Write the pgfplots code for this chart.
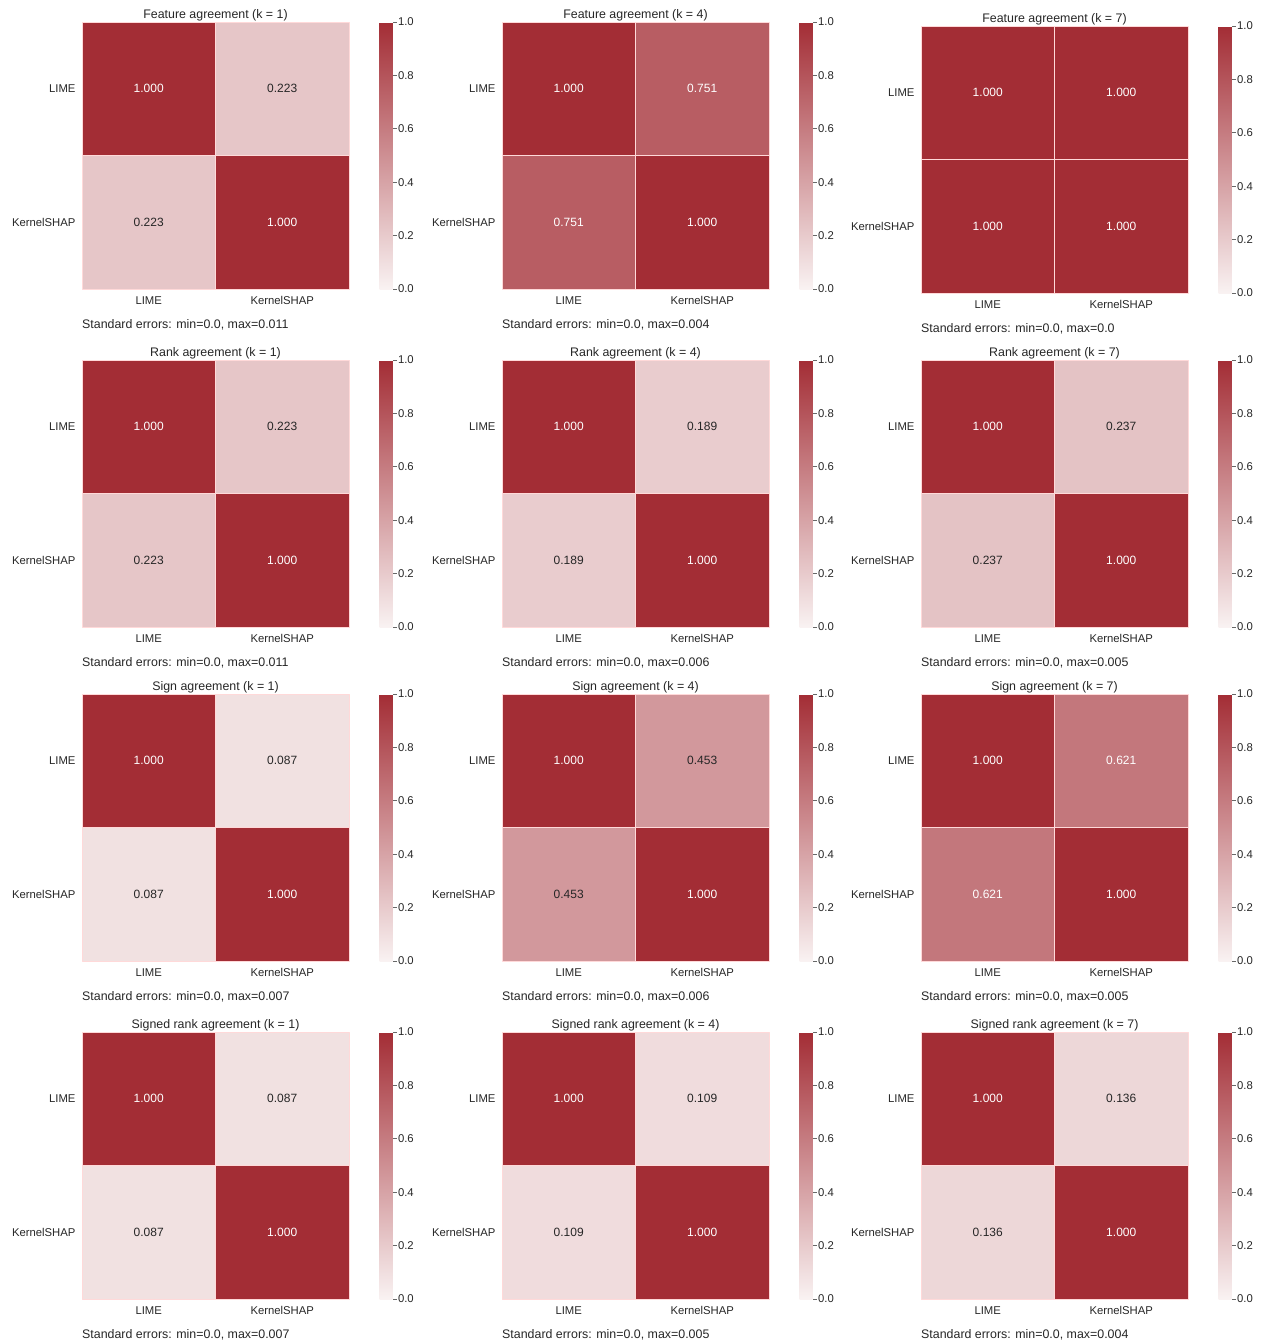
\documentclass[border=0pt]{standalone}
\usepackage{pgfplots}
\pgfplotsset{compat=1.18}
\usepackage{fontspec}
\setmainfont{Liberation Sans}
\definecolor{txt}{RGB}{38,38,38}
\tikzset{annot/.style={font=\fontsize{12}{14}\selectfont, anchor=center, inner sep=0pt},
  setext/.style={anchor=base west, font=\fontsize{12.4}{14}\selectfont, text=txt, inner sep=0pt}}
\pgfplotsset{
  /pgf/number format/assume math mode=true,
  colormap={redmap}{rgb255=(249,242,242) rgb255=(163,45,53)},
  cells/.style={patch, patch type=rectangle, shader=faceted, faceted color=white!85!red, line width=0.5pt, point meta=explicit},
  hm/.style={
    anchor=north west, scale only axis, width=267pt, height=267pt,
    xmin=0, xmax=2, ymin=0, ymax=2, y dir=reverse, clip=false,
    axis line style={draw=none},
    xtick={0.5,1.5}, xticklabels={LIME,KernelSHAP},
    ytick={0.5,1.5}, yticklabels={LIME,KernelSHAP},
    major tick length=0pt,
    tick label style={font=\fontsize{11.3}{13}\selectfont, text=txt},
    xticklabel style={anchor=base, yshift=-15.5pt},
    yticklabel style={xshift=-3pt},
    title style={font=\fontsize{12.4}{14}\selectfont, text=txt, at={(0.5,1)}, anchor=base, yshift=-2.8pt, inner sep=0pt},
    colormap name=redmap, point meta min=0, point meta max=1,
    colorbar right,
    colorbar style={at={(parent axis.north east)}, anchor=north west, xshift=22pt,
      width=13pt, height=267pt, scale only axis,
      ytick={0,0.2,0.4,0.6,0.8,1.0},
      yticklabel style={/pgf/number format/.cd, fixed, fixed zerofill, precision=1, /tikz/.cd,
        font=\fontsize{11.3}{13}\selectfont, text=txt, xshift=-2pt},
      axis line style={draw=none}, tick align=outside, major tick length=4pt,
      ytick pos=right, tick style={color=txt!70, line width=0.7pt}},
  }
}
\begin{document}
\begin{tikzpicture}
\useasboundingbox (0,0) rectangle (1265pt,-1342pt);
% ===== Row 1: Feature agreement =====
\begin{axis}[hm, at={(82pt,-22pt)}, title={Feature agreement (k = 1)}]
\addplot[cells] coordinates {
 (0,0) [1] (1,0) [1] (1,1) [1] (0,1) [1]
 (1,0) [0.223] (2,0) [0.223] (2,1) [0.223] (1,1) [0.223]
 (0,1) [0.223] (1,1) [0.223] (1,2) [0.223] (0,2) [0.223]
 (1,1) [1] (2,1) [1] (2,2) [1] (1,2) [1]};
\node[annot, text=white] at (axis cs:0.5,0.5) {1.000};
\node[annot, text=txt] at (axis cs:1.5,0.5) {0.223};
\node[annot, text=txt] at (axis cs:0.5,1.5) {0.223};
\node[annot, text=white] at (axis cs:1.5,1.5) {1.000};
\end{axis}
\node[setext] at (82pt,-328pt) {Standard errors: min=0.0, max=0.011};
\begin{axis}[hm, at={(502pt,-22pt)}, title={Feature agreement (k = 4)}]
\addplot[cells] coordinates {
 (0,0) [1] (1,0) [1] (1,1) [1] (0,1) [1]
 (1,0) [0.751] (2,0) [0.751] (2,1) [0.751] (1,1) [0.751]
 (0,1) [0.751] (1,1) [0.751] (1,2) [0.751] (0,2) [0.751]
 (1,1) [1] (2,1) [1] (2,2) [1] (1,2) [1]};
\node[annot, text=white] at (axis cs:0.5,0.5) {1.000};
\node[annot, text=white] at (axis cs:1.5,0.5) {0.751};
\node[annot, text=white] at (axis cs:0.5,1.5) {0.751};
\node[annot, text=white] at (axis cs:1.5,1.5) {1.000};
\end{axis}
\node[setext] at (502pt,-328pt) {Standard errors: min=0.0, max=0.004};
\begin{axis}[hm, at={(921pt,-26pt)}, title={Feature agreement (k = 7)}]
\addplot[cells] coordinates {
 (0,0) [1] (1,0) [1] (1,1) [1] (0,1) [1]
 (1,0) [1.000] (2,0) [1.000] (2,1) [1.000] (1,1) [1.000]
 (0,1) [1.000] (1,1) [1.000] (1,2) [1.000] (0,2) [1.000]
 (1,1) [1] (2,1) [1] (2,2) [1] (1,2) [1]};
\node[annot, text=white] at (axis cs:0.5,0.5) {1.000};
\node[annot, text=white] at (axis cs:1.5,0.5) {1.000};
\node[annot, text=white] at (axis cs:0.5,1.5) {1.000};
\node[annot, text=white] at (axis cs:1.5,1.5) {1.000};
\end{axis}
\node[setext] at (921pt,-332pt) {Standard errors: min=0.0, max=0.0};
% ===== Row 2: Rank agreement =====
\begin{axis}[hm, at={(82pt,-360pt)}, title={Rank agreement (k = 1)}]
\addplot[cells] coordinates {
 (0,0) [1] (1,0) [1] (1,1) [1] (0,1) [1]
 (1,0) [0.223] (2,0) [0.223] (2,1) [0.223] (1,1) [0.223]
 (0,1) [0.223] (1,1) [0.223] (1,2) [0.223] (0,2) [0.223]
 (1,1) [1] (2,1) [1] (2,2) [1] (1,2) [1]};
\node[annot, text=white] at (axis cs:0.5,0.5) {1.000};
\node[annot, text=txt] at (axis cs:1.5,0.5) {0.223};
\node[annot, text=txt] at (axis cs:0.5,1.5) {0.223};
\node[annot, text=white] at (axis cs:1.5,1.5) {1.000};
\end{axis}
\node[setext] at (82pt,-666pt) {Standard errors: min=0.0, max=0.011};
\begin{axis}[hm, at={(502pt,-360pt)}, title={Rank agreement (k = 4)}]
\addplot[cells] coordinates {
 (0,0) [1] (1,0) [1] (1,1) [1] (0,1) [1]
 (1,0) [0.189] (2,0) [0.189] (2,1) [0.189] (1,1) [0.189]
 (0,1) [0.189] (1,1) [0.189] (1,2) [0.189] (0,2) [0.189]
 (1,1) [1] (2,1) [1] (2,2) [1] (1,2) [1]};
\node[annot, text=white] at (axis cs:0.5,0.5) {1.000};
\node[annot, text=txt] at (axis cs:1.5,0.5) {0.189};
\node[annot, text=txt] at (axis cs:0.5,1.5) {0.189};
\node[annot, text=white] at (axis cs:1.5,1.5) {1.000};
\end{axis}
\node[setext] at (502pt,-666pt) {Standard errors: min=0.0, max=0.006};
\begin{axis}[hm, at={(921pt,-360pt)}, title={Rank agreement (k = 7)}]
\addplot[cells] coordinates {
 (0,0) [1] (1,0) [1] (1,1) [1] (0,1) [1]
 (1,0) [0.237] (2,0) [0.237] (2,1) [0.237] (1,1) [0.237]
 (0,1) [0.237] (1,1) [0.237] (1,2) [0.237] (0,2) [0.237]
 (1,1) [1] (2,1) [1] (2,2) [1] (1,2) [1]};
\node[annot, text=white] at (axis cs:0.5,0.5) {1.000};
\node[annot, text=txt] at (axis cs:1.5,0.5) {0.237};
\node[annot, text=txt] at (axis cs:0.5,1.5) {0.237};
\node[annot, text=white] at (axis cs:1.5,1.5) {1.000};
\end{axis}
\node[setext] at (921pt,-666pt) {Standard errors: min=0.0, max=0.005};
% ===== Row 3: Sign agreement =====
\begin{axis}[hm, at={(82pt,-694pt)}, title={Sign agreement (k = 1)}]
\addplot[cells] coordinates {
 (0,0) [1] (1,0) [1] (1,1) [1] (0,1) [1]
 (1,0) [0.087] (2,0) [0.087] (2,1) [0.087] (1,1) [0.087]
 (0,1) [0.087] (1,1) [0.087] (1,2) [0.087] (0,2) [0.087]
 (1,1) [1] (2,1) [1] (2,2) [1] (1,2) [1]};
\node[annot, text=white] at (axis cs:0.5,0.5) {1.000};
\node[annot, text=txt] at (axis cs:1.5,0.5) {0.087};
\node[annot, text=txt] at (axis cs:0.5,1.5) {0.087};
\node[annot, text=white] at (axis cs:1.5,1.5) {1.000};
\end{axis}
\node[setext] at (82pt,-1000pt) {Standard errors: min=0.0, max=0.007};
\begin{axis}[hm, at={(502pt,-694pt)}, title={Sign agreement (k = 4)}]
\addplot[cells] coordinates {
 (0,0) [1] (1,0) [1] (1,1) [1] (0,1) [1]
 (1,0) [0.453] (2,0) [0.453] (2,1) [0.453] (1,1) [0.453]
 (0,1) [0.453] (1,1) [0.453] (1,2) [0.453] (0,2) [0.453]
 (1,1) [1] (2,1) [1] (2,2) [1] (1,2) [1]};
\node[annot, text=white] at (axis cs:0.5,0.5) {1.000};
\node[annot, text=txt] at (axis cs:1.5,0.5) {0.453};
\node[annot, text=txt] at (axis cs:0.5,1.5) {0.453};
\node[annot, text=white] at (axis cs:1.5,1.5) {1.000};
\end{axis}
\node[setext] at (502pt,-1000pt) {Standard errors: min=0.0, max=0.006};
\begin{axis}[hm, at={(921pt,-694pt)}, title={Sign agreement (k = 7)}]
\addplot[cells] coordinates {
 (0,0) [1] (1,0) [1] (1,1) [1] (0,1) [1]
 (1,0) [0.621] (2,0) [0.621] (2,1) [0.621] (1,1) [0.621]
 (0,1) [0.621] (1,1) [0.621] (1,2) [0.621] (0,2) [0.621]
 (1,1) [1] (2,1) [1] (2,2) [1] (1,2) [1]};
\node[annot, text=white] at (axis cs:0.5,0.5) {1.000};
\node[annot, text=white] at (axis cs:1.5,0.5) {0.621};
\node[annot, text=white] at (axis cs:0.5,1.5) {0.621};
\node[annot, text=white] at (axis cs:1.5,1.5) {1.000};
\end{axis}
\node[setext] at (921pt,-1000pt) {Standard errors: min=0.0, max=0.005};
% ===== Row 4: Signed rank agreement =====
\begin{axis}[hm, at={(82pt,-1032pt)}, title={Signed rank agreement (k = 1)}]
\addplot[cells] coordinates {
 (0,0) [1] (1,0) [1] (1,1) [1] (0,1) [1]
 (1,0) [0.087] (2,0) [0.087] (2,1) [0.087] (1,1) [0.087]
 (0,1) [0.087] (1,1) [0.087] (1,2) [0.087] (0,2) [0.087]
 (1,1) [1] (2,1) [1] (2,2) [1] (1,2) [1]};
\node[annot, text=white] at (axis cs:0.5,0.5) {1.000};
\node[annot, text=txt] at (axis cs:1.5,0.5) {0.087};
\node[annot, text=txt] at (axis cs:0.5,1.5) {0.087};
\node[annot, text=white] at (axis cs:1.5,1.5) {1.000};
\end{axis}
\node[setext] at (82pt,-1338pt) {Standard errors: min=0.0, max=0.007};
\begin{axis}[hm, at={(502pt,-1032pt)}, title={Signed rank agreement (k = 4)}]
\addplot[cells] coordinates {
 (0,0) [1] (1,0) [1] (1,1) [1] (0,1) [1]
 (1,0) [0.109] (2,0) [0.109] (2,1) [0.109] (1,1) [0.109]
 (0,1) [0.109] (1,1) [0.109] (1,2) [0.109] (0,2) [0.109]
 (1,1) [1] (2,1) [1] (2,2) [1] (1,2) [1]};
\node[annot, text=white] at (axis cs:0.5,0.5) {1.000};
\node[annot, text=txt] at (axis cs:1.5,0.5) {0.109};
\node[annot, text=txt] at (axis cs:0.5,1.5) {0.109};
\node[annot, text=white] at (axis cs:1.5,1.5) {1.000};
\end{axis}
\node[setext] at (502pt,-1338pt) {Standard errors: min=0.0, max=0.005};
\begin{axis}[hm, at={(921pt,-1032pt)}, title={Signed rank agreement (k = 7)}]
\addplot[cells] coordinates {
 (0,0) [1] (1,0) [1] (1,1) [1] (0,1) [1]
 (1,0) [0.136] (2,0) [0.136] (2,1) [0.136] (1,1) [0.136]
 (0,1) [0.136] (1,1) [0.136] (1,2) [0.136] (0,2) [0.136]
 (1,1) [1] (2,1) [1] (2,2) [1] (1,2) [1]};
\node[annot, text=white] at (axis cs:0.5,0.5) {1.000};
\node[annot, text=txt] at (axis cs:1.5,0.5) {0.136};
\node[annot, text=txt] at (axis cs:0.5,1.5) {0.136};
\node[annot, text=white] at (axis cs:1.5,1.5) {1.000};
\end{axis}
\node[setext] at (921pt,-1338pt) {Standard errors: min=0.0, max=0.004};
\end{tikzpicture}
\end{document}
